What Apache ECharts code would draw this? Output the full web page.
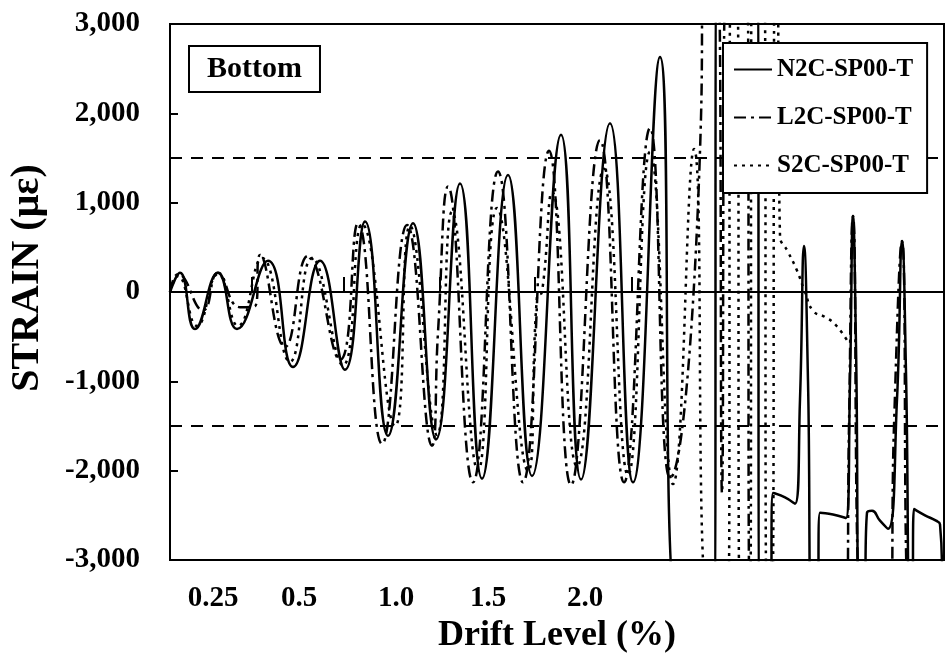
<!DOCTYPE html>
<html>
<head>
    <meta charset="UTF-8">
    <title>Strain history - Bottom</title>
    <script src="https://cdn.jsdelivr.net/npm/echarts@6/dist/echarts.min.js"></script>
</head>
<body style="margin:0">
    <div id="chart" style="width:948px; height:659px;"></div>
    <script>
        // x = loading step, y = strain (micro-strain); peaks and troughs
        var n2c = [
            [0, 0], [10, 215], [25, -415], [48, 215], [67, -415], [98, 350], [123, -840],
            [150, 350], [175, -870], [195, 790], [218, -1610], [243, 770], [266, -1650],
            [290, 1215], [312, -2090], [338, 1310], [362, -2060], [391, 1760], [411, -2100],
            [440, 1890], [463, -2130], [490, 2630], [508, -3600], [544, -3600], [547, 3600],
            [587, 3600], [590, -3600], [600, -3600], [603, -2250], [615, -2300], [625, -2370],
            [630, -1200], [634, 515], [638, -1000], [642, -3600], [647, -3600], [650, -2470],
            [663, -2490], [676, -2530], [680, -1000], [683, 850], [686, -600], [690, -3600],
            [694, -3600], [697, -2470], [702, -2450], [710, -2560], [718, -2650], [727, -1200],
            [732, 570], [736, -900], [740, -3600], [742, -3600], [744, -2430], [755, -2500],
            [766, -2560], [770, -2600], [772, -3100]
        ];
        var l2c = [
            [0, 0], [8, 200], [33, -205], [48, 215], [70, -170], [85, -160], [90, 415],
            [115, -615], [138, 405], [170, -760], [188, 770], [212, -1700], [237, 750],
            [262, -1720], [268, -450], [278, 1180], [303, -2130], [328, 1350], [353, -2130],
            [379, 1580], [401, -2160], [430, 1700], [454, -2130], [480, 1835], [500, -2080],
            [531, 1950], [533, 3600], [548, 3600], [552, -2250], [556, 3600], [577, 3600],
            [580, -3600], [676, -3600], [679, -1500], [683, 850], [692, -3600], [720, -3600],
            [724, -1500], [732, 570], [740, -3600], [774, -3600]
        ];
        var s2c = [
            [0, 0], [8, 180], [27, -380], [48, 200], [68, -380], [92, 380], [120, -780],
            [142, 380], [173, -820], [192, 760], [225, -1500], [240, 740], [267, -1600],
            [282, 900], [308, -2000], [327, 940], [358, -2000], [367, -50], [372, 0],
            [382, 1120], [407, -1950], [434, 1380], [458, -2050], [480, 1570], [503, -2150],
            [524, 1600], [540, -3600], [558, -3600], [561, 3600], [567, 3600], [570, -3600],
            [580, -3600], [582, 3600], [594, 3600], [597, -3600], [602, -3600], [605, 3600],
            [607, 3600], [610, 630], [618, 450], [627, 240], [635, 0], [643, -210],
            [655, -280], [665, -360], [677, -540]
        ];

        var driftLabels = ['0.25', '0.5', '1.0', '1.5', '2.0'];
        var driftLabelSteps = [43, 129, 226, 318, 415];
        var driftBounds = [82, 174, 270, 365, 462];
        var limitStrain = 1500;

        var serif = '"Liberation Serif", "DejaVu Serif", serif';

        var chart = echarts.init(document.getElementById('chart'), null, {renderer: 'canvas'});

        function lineSeries(name, data, type) {
            return {
                name: name,
                type: 'line',
                data: data,
                showSymbol: false,
                symbol: 'none',
                smooth: 0.5,
                animation: false,
                itemStyle: {color: '#000'},
                lineStyle: {color: '#000', width: 2.5, type: type}
            };
        }

        var series = [
            lineSeries('N2C-SP00-T', n2c, 'solid'),
            lineSeries('L2C-SP00-T', l2c, [12, 5, 3, 5]),
            lineSeries('S2C-SP00-T', s2c, [3, 5])
        ];
        series[0].markLine = {
            silent: true,
            symbol: 'none',
            label: {show: false},
            animation: false,
            data: [
                {yAxis: 0, lineStyle: {color: '#000', width: 2, type: 'solid'}},
                {yAxis: limitStrain, lineStyle: {color: '#000', width: 2, type: [12, 9]}},
                {yAxis: -limitStrain, lineStyle: {color: '#000', width: 2, type: [12, 9]}}
            ]
        };

        chart.setOption({
            backgroundColor: '#fff',
            animation: false,
            grid: {
                left: 170, right: 4, top: 24, bottom: 94,
                show: true, borderColor: '#000', borderWidth: 2
            },
            legend: {
                orient: 'vertical',
                left: 723, top: 43,
                z: 20,
                backgroundColor: '#fff',
                borderColor: '#000', borderWidth: 2,
                padding: [14, 14, 15, 10],
                itemWidth: 38, itemHeight: 14, itemGap: 23,
                itemStyle: {opacity: 0},
                textStyle: {fontFamily: serif, fontWeight: 'bold', fontSize: 25, color: '#000'},
                data: ['N2C-SP00-T', 'L2C-SP00-T', 'S2C-SP00-T']
            },
            xAxis: {
                type: 'value',
                min: 0, max: 774,
                name: 'Drift Level (%)',
                nameLocation: 'middle',
                nameGap: 58,
                nameTextStyle: {fontFamily: serif, fontWeight: 'bold', fontSize: 36, color: '#000'},
                axisLine: {lineStyle: {color: '#000', width: 2}},
                axisTick: {
                    inside: true, length: 15, customValues: driftBounds,
                    lineStyle: {color: '#000', width: 2}
                },
                axisLabel: {
                    customValues: driftLabelSteps,
                    margin: 24,
                    fontFamily: serif, fontWeight: 'bold', fontSize: 29, color: '#000',
                    formatter: function (v) {
                        var i = driftLabelSteps.indexOf(v);
                        return i >= 0 ? driftLabels[i] : '';
                    }
                },
                splitLine: {show: false}
            },
            yAxis: {
                type: 'value',
                min: -3000, max: 3000, interval: 1000,
                name: 'STRAIN (με)',
                nameLocation: 'middle',
                nameRotate: 90,
                nameGap: 122,
                nameTextStyle: {
                    fontFamily: serif, fontWeight: 'bold', fontSize: 40, color: '#000',
                    padding: [0, 0, 0, 28]
                },
                axisLine: {show: true, lineStyle: {color: '#000', width: 2}},
                axisTick: {inside: true, length: 8, lineStyle: {color: '#000', width: 2}},
                axisLabel: {
                    margin: 30,
                    fontFamily: serif, fontWeight: 'bold', fontSize: 29, color: '#000',
                    formatter: function (v) { return v.toLocaleString('en-US'); }
                },
                splitLine: {show: false}
            },
            graphic: [{
                type: 'text',
                left: 188, top: 45,
                silent: true,
                style: {
                    text: 'Bottom',
                    font: 'bold 30px ' + serif,
                    fill: '#000',
                    backgroundColor: '#fff',
                    borderColor: '#000',
                    borderWidth: 2,
                    padding: [7, 17, 7, 17]
                }
            }],
            series: series
        });
    </script>
</body>
</html>
